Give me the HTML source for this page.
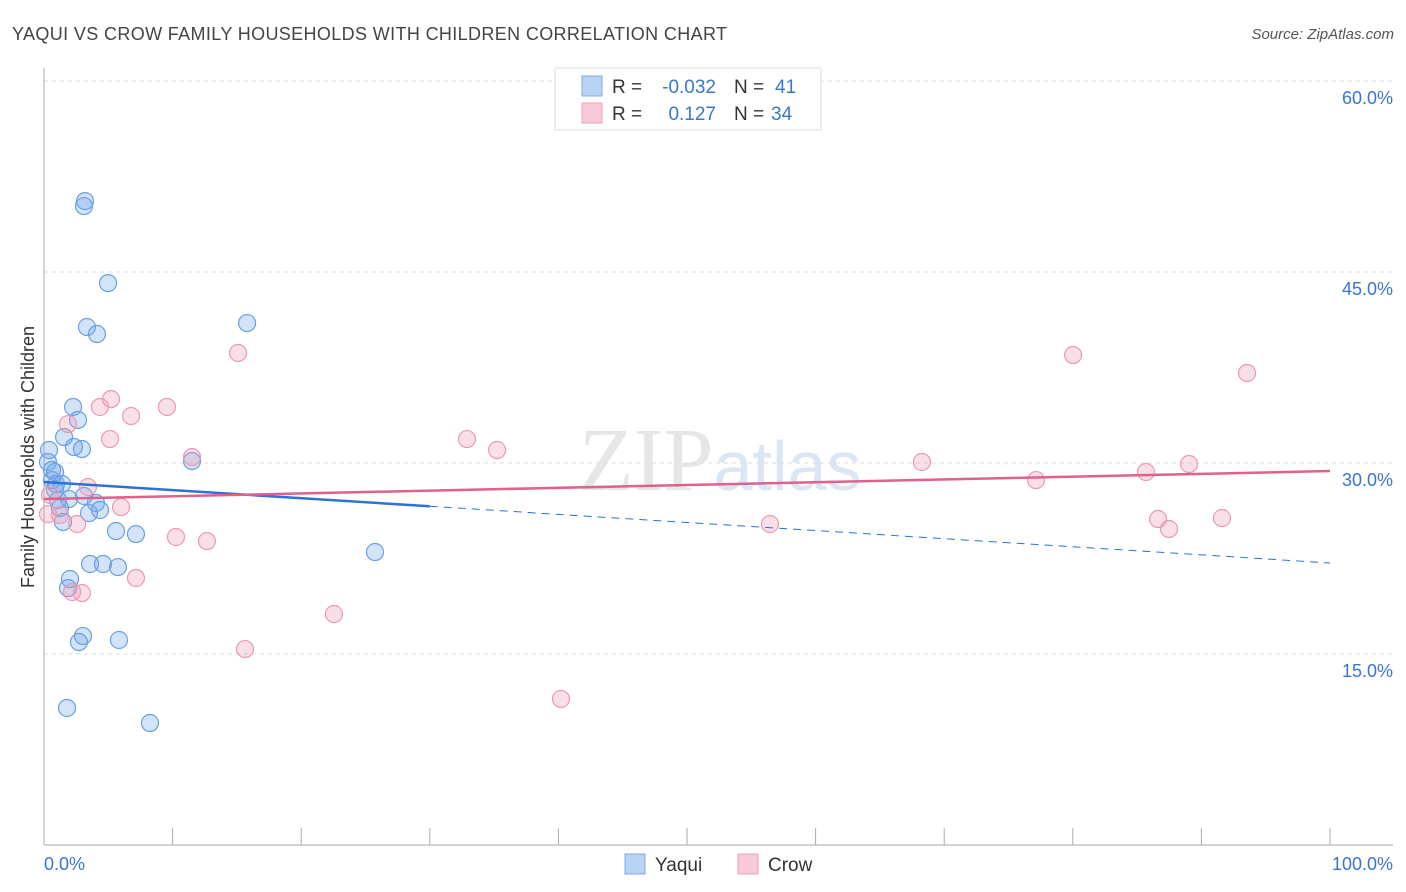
<!DOCTYPE html>
<html><head><meta charset="utf-8"><style>
body{margin:0;background:#fff;font-family:"Liberation Sans",sans-serif}
</style></head><body>
<svg id="c" width="1406" height="892" style="display:block">
<text x="12" y="40" font-size="18" fill="#444" textLength="715">YAQUI VS CROW FAMILY HOUSEHOLDS WITH CHILDREN CORRELATION CHART</text>
<text x="1394" y="39" font-size="15" fill="#555" font-style="italic" text-anchor="end">Source: ZipAtlas.com</text>
<text transform="translate(34,457) rotate(-90)" font-size="18" fill="#333" text-anchor="middle">Family Households with Children</text>
<text x="720" y="490" font-size="90" fill="#e6e6e6" text-anchor="middle" font-family="Liberation Serif">ZIP<tspan fill="#dbe6f5" font-family="Liberation Sans" font-size="70">atlas</tspan></text>
<g id="grid"></g><g id="marks"></g>
<g font-size="19">
<rect x="555" y="68" width="266" height="62" fill="#fff" stroke="#ddd"/>
<rect x="582" y="76" width="20" height="20" fill="#b9d3f5" stroke="#7ea9e6"/>
<rect x="582" y="103" width="20" height="20" fill="#f9c9d7" stroke="#eba2b9"/>
<text x="612" y="93" fill="#333">R =</text>
<text x="716" y="93" fill="#3a75d0" text-anchor="end">-0.032</text>
<text x="734" y="93" fill="#333">N =</text>
<text x="775" y="93" fill="#3a75d0">41</text>
<text x="612" y="120" fill="#333">R =</text>
<text x="716" y="120" fill="#3a75d0" text-anchor="end">0.127</text>
<text x="734" y="120" fill="#333">N =</text>
<text x="771" y="120" fill="#3a75d0">34</text>
</g>
<g>
<rect x="625" y="854" width="20" height="20" fill="#b9d3f5" stroke="#7ea9e6"/>
<text x="655" y="871" font-size="19" fill="#333">Yaqui</text>
<rect x="738" y="854" width="20" height="20" fill="#f9c9d7" stroke="#eba2b9"/>
<text x="768" y="871" font-size="19" fill="#333">Crow</text>
</g>
</svg>
<script>
const yTicks=[15,30,45,60];
const yTickLabels=["15.0%","30.0%","45.0%","60.0%"];
const xTickLabels=["0.0%","100.0%"];
const yaquiX=[.39,.31,.62,.86,.62,.93,1.40,1.09,1.24,1.48,1.94,3.11,3.50,4.04,4.35,5.60,7.15,1.56,2.33,2.95,2.26,2.64,3.58,4.59,5.75,2.02,1.87,3.03,2.72,5.83,1.79,8.24,3.19,3.11,4.98,3.34,4.12,15.79,11.51,25.74,.86];
const yaquiY=[31.02,30.08,29.45,29.29,28.66,28.35,28.35,27.09,26.46,25.37,27.17,27.41,26.07,26.86,26.31,24.66,24.42,32.04,31.26,31.10,34.40,33.38,22.07,22.07,21.83,20.89,20.18,16.41,15.94,16.10,10.76,9.58,50.57,50.18,44.13,40.68,40.13,40.99,30.16,23.01,27.88];
const crowX=[.31,.47,1.24,2.57,1.87,5.13,4.35,5.21,6.77,9.56,15.09,11.51,3.42,5.99,10.26,12.67,7.15,2.18,2.95,22.55,15.63,40.20,32.89,35.23,56.45,68.27,77.14,80.02,85.69,86.63,87.48,89.04,91.60,93.55];
const crowY=[25.99,27.49,25.92,25.21,33.06,31.88,34.40,35.02,33.69,34.40,38.64,30.47,28.11,26.54,24.19,23.87,20.97,19.87,19.79,18.14,15.39,11.47,31.88,31.02,25.21,30.08,28.66,38.48,29.29,25.60,24.82,29.92,25.68,37.07];
const yaquiTrend=[28.51,22.15], crowTrend=[27.17,29.37], yaquiSolidTo=30;
const X=v=>44+v*12.86, Y=v=>845-v*12.733;
const NS="http://www.w3.org/2000/svg";
function mk(t,a,p){const e=document.createElementNS(NS,t);for(const k in a)e.setAttribute(k,a[k]);p.appendChild(e);return e;}
const g=document.getElementById('grid'),m=document.getElementById('marks');
yTicks.forEach((t,i)=>{
 const l=mk('line',{x1:44,x2:1393,y1:Y(t),y2:Y(t),stroke:'#ddd','stroke-dasharray':'4,4'},g);
 
 
 const tx=mk('text',{x:1393,y:Y(t)+23,'font-size':18,fill:'#3a75d0','text-anchor':'end'},g);tx.textContent=yTickLabels[i];
 
 
});
const ax=mk('line',{x1:44,x2:44,y1:68,y2:845,stroke:'#aaa'},g);


const bx=mk('line',{x1:44,x2:1393,y1:845,y2:845,stroke:'#aaa'},g);


for(let i=1;i<=10;i++){const t=mk('line',{x1:X(i*10),x2:X(i*10),y1:828,y2:845,stroke:'#aaa'},g);
 
 }
[[0,'start',44],[100,'end',1393]].forEach((d,i)=>{const t=mk('text',{x:d[2],y:870,'font-size':18,fill:'#3a75d0','text-anchor':d[1]},g);t.textContent=xTickLabels[i];
 
 });
function pts(xs,ys,fill,stroke,name){xs.forEach((x,i)=>{const c=mk('circle',{cx:X(x),cy:Y(ys[i]),r:8.5,fill:fill,stroke:stroke,'stroke-width':1.2},m);
 
 });}
pts(yaquiX,yaquiY,'rgba(110,165,235,0.3)','#6a9fe0','yaqui-point');
pts(crowX,crowY,'rgba(242,150,180,0.3)','#e99ab4','crow-point');
const ty=x=>yaquiTrend[0]+(yaquiTrend[1]-yaquiTrend[0])*x/100;
let l1=mk('line',{x1:X(0),y1:Y(ty(0)),x2:X(yaquiSolidTo),y2:Y(ty(yaquiSolidTo)),stroke:'#2f6fd6','stroke-width':2.5},m);


let l2=mk('line',{x1:X(yaquiSolidTo),y1:Y(ty(yaquiSolidTo)),x2:X(100),y2:Y(ty(100)),stroke:'#2f6fd6','stroke-width':1,'stroke-dasharray':'8,6'},m);


let l3=mk('line',{x1:X(0),y1:Y(crowTrend[0]),x2:X(100),y2:Y(crowTrend[1]),stroke:'#e0608f','stroke-width':2.5},m);


</script>
</body></html>
